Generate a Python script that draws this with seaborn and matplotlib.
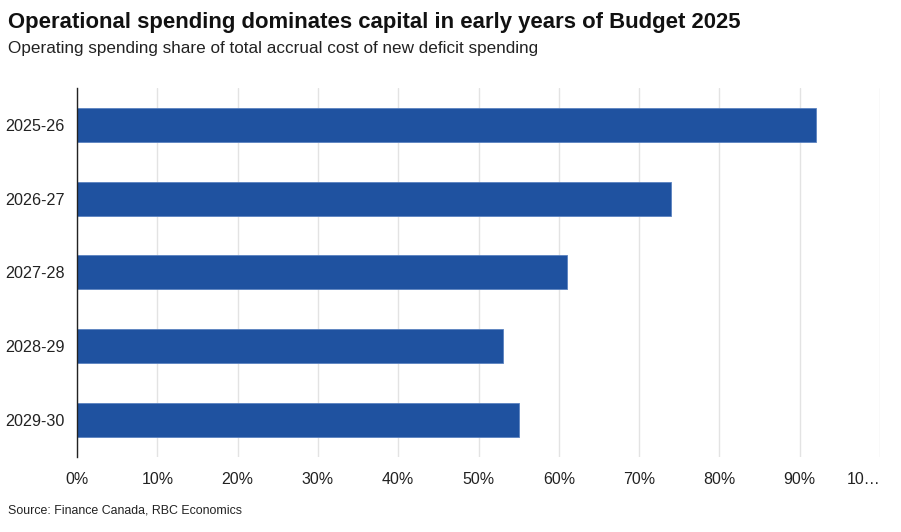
import pandas as pd
import matplotlib.pyplot as plt
import seaborn as sns

# Data
years = ["2025-26", "2026-27", "2027-28", "2028-29", "2029-30"]
share = [92, 74, 61, 53, 55]
tick_vals = [0, 10, 20, 30, 40, 50, 60, 70, 80, 90, 100]
tick_labels = ["0%", "10%", "20%", "30%", "40%", "50%", "60%", "70%", "80%", "90%", "10…"]

df = pd.DataFrame({"year": years, "share": share})

sns.set_theme(style="white")
plt.rcParams['font.family'] = ['Liberation Sans', 'DejaVu Sans']

fig = plt.figure(figsize=(9.01, 5.32), dpi=100)
ax = fig.add_axes([0.0855, 0.141, 0.8912, 0.694])

sns.barplot(data=df, x="share", y="year", color="#1f52a0", saturation=1,
            width=0.46, edgecolor="#5b82c0", linewidth=0.6, ax=ax)

ax.set_xlim(0, 100)
ax.set_ylim(4.5, -0.5)
ax.set_xticks(tick_vals)
ax.set_xticklabels(tick_labels, fontsize=11.5, color="#222222")
# last label is clipped at the right edge in the original
ax.get_xticklabels()[-1].set_horizontalalignment("right")
ax.tick_params(axis="y", labelsize=11.6, labelcolor="#222222", length=0, pad=9)
ax.tick_params(axis="x", length=0, pad=11)
ax.set_xlabel("")
ax.set_ylabel("")
ax.grid(axis="x", color="#e3e3e3", linewidth=1)
ax.set_axisbelow(True)
for s in ["top", "right", "bottom"]:
    ax.spines[s].set_visible(False)
ax.spines["left"].set_color("#222222")
ax.spines["left"].set_linewidth(1)

fig.text(0.009, 0.958, "Operational spending dominates capital in early years of Budget 2025",
         fontsize=15.9, fontweight="bold", ha="left", va="center", color="#111111")
fig.text(0.009, 0.909, "Operating spending share of total accrual cost of new deficit spending",
         fontsize=12.3, ha="left", va="center", color="#222222")
fig.text(0.009, 0.04, "Source: Finance Canada, RBC Economics",
         fontsize=8.9, ha="left", va="center", color="#222222")

fig.savefig("out.png", dpi=100)
